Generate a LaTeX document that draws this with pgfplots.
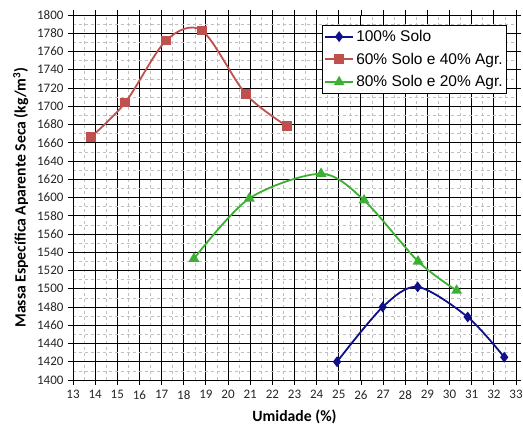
\documentclass[border=0pt]{standalone}
\usepackage{pgfplots}
\pgfplotsset{compat=1.18}
\usepackage{fontspec}
\setmainfont{Carlito}
\newfontfamily\arial{Liberation Sans}
\definecolor{cblue}{RGB}{16,16,140}
\definecolor{cred}{RGB}{192,80,77}
\definecolor{cgreen}{RGB}{60,176,50}
\begin{document}
\begin{tikzpicture}
\begin{axis}[
  scale only axis,
  width=443pt, height=365pt,
  xmin=13, xmax=33, ymin=1400, ymax=1800,
  xtick={13,14,...,33}, ytick={1400,1420,...,1800},
  minor x tick num=1, minor y tick num=1,
  grid=both,
  major grid style={black, line width=0.9pt},
  minor grid style={gray!50, dashed, line width=0.6pt},
  tick align=outside, major tick length=5pt, minor tick length=0pt,
  tick style={black, line width=0.8pt},
  axis line style={black, line width=0.9pt},
  /pgf/number format/assume math mode=true,
  /pgf/number format/1000 sep={},
  ticklabel style={font=\fontsize{13}{15}\selectfont, color=black!85},
  xticklabel style={yshift=-2pt},
  yticklabel style={xshift=-1pt},
  xlabel={\textbf{Umidade (\%)}},
  ylabel={\textbf{Massa Específica Aparente Seca (kg/m\textsuperscript{3})}},
  label style={font=\fontsize{15.7}{18}\selectfont},
  xlabel style={yshift=-3pt},
  ylabel style={yshift=2pt},
  legend style={at={(0.980,0.973)}, anchor=north east, draw=black, line width=0.8pt,
    font=\arial\fontsize{15.5}{18}\selectfont, row sep=6pt, inner xsep=2pt, inner ysep=3pt,
    cells={anchor=west}},
  legend image code/.code={\draw[mark repeat=2,mark phase=2] plot coordinates {(0cm,0cm) (0.5cm,0cm) (1cm,0cm)};},
  legend cell align=left,
]
\addplot[cblue, line width=1.8pt, smooth, mark=diamond*, mark size=4pt, mark options={solid}] coordinates {
 (24.92,1420) (26.98,1480) (28.56,1502) (30.82,1469) (32.47,1425)};
\addlegendentry{100\% Solo}
\addplot[cred, line width=1.8pt, smooth, mark=square*, mark size=4pt] coordinates {
 (13.80,1666) (15.36,1704) (17.20,1772) (18.82,1783) (20.81,1713) (22.67,1678)};
\addlegendentry{60\% Solo e 40\% Agr.}
\addplot[cgreen, line width=1.8pt, smooth, mark=triangle*, mark size=4.5pt] coordinates {
 (18.46,1533) (20.96,1599) (24.20,1626) (26.14,1597) (28.58,1530) (30.32,1498)};
\addlegendentry{80\% Solo e 20\% Agr.}
\end{axis}
\pgfresetboundingbox
\path[use as bounding box] ([shift={(-73pt,-45pt)}]current axis.south west) rectangle ([shift={(7pt,15pt)}]current axis.north east);
\end{tikzpicture}
\end{document}
